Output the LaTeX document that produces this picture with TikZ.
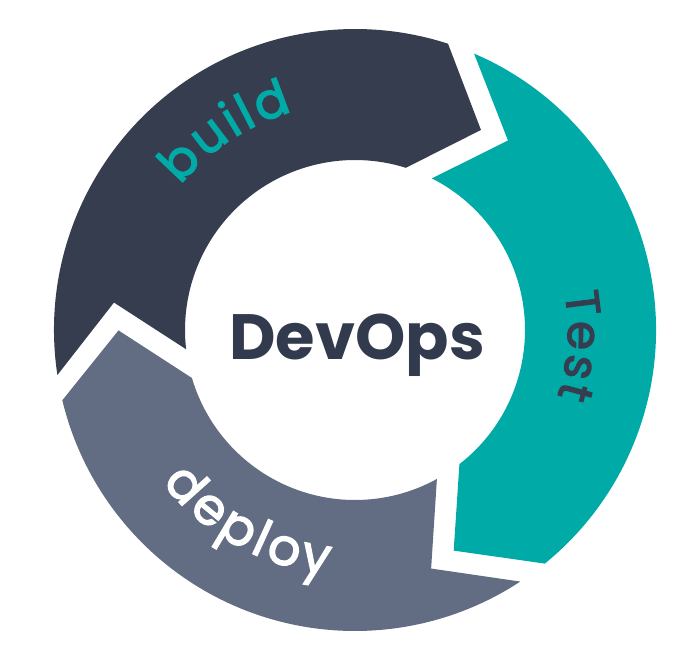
\documentclass[tikz,border=0pt]{standalone}
\usepackage{fontspec}
\setmainfont{Poppins}
\newfontfamily\ringfont[FakeBold=2.5]{Poppins}
\usetikzlibrary{decorations.text}
\definecolor{buildc}{HTML}{363D4F}
\definecolor{testc}{HTML}{00AAA7}
\definecolor{deployc}{HTML}{626D83}
\definecolor{titlec}{HTML}{323A4D}
\tikzset{
  seg/.style={draw=none},
  ringlabel/.style={decorate, decoration={text along path, text align=center, text={#1}}},
  title/.style={text=titlec, font=\bfseries\fontsize{64}{64}\selectfont, inner sep=0pt}
}
\begin{document}
\begin{tikzpicture}[x=1pt,y=1pt]
\useasboundingbox[fill=white] (-355,-326) rectangle (345,330);
% build
\fill[seg, buildc] (188.6:301) arc[start angle=188.6, end angle=72, radius=301]
  -- (57.8:236.4) -- (72.6:170) arc[start angle=72.6, end angle=186.5, radius=170]
  -- (173.5:242.6) -- cycle;
% test
\fill[seg, testc] (66.7:301) arc[start angle=66.7, end angle=-50.9, radius=301]
  -- (-65.9:241.7) -- (-52.1:170) arc[start angle=-52.1, end angle=63.1, radius=170]
  -- (51.1:243.6) -- cycle;
% deploy
\fill[seg, deployc] (-56.7:301) arc[start angle=-56.7, end angle=-166.5, radius=301]
  -- (-179.9:236.5) -- (-163.6:170) arc[start angle=-163.6, end angle=-61.2, radius=170]
  -- (-72.3:250.4) -- cycle;
% labels
\path[ringlabel={|\ringfont\fontsize{50}{50}\selectfont\color{testc}\kern3pt|build}]
  (153.5:227) arc[start angle=153.5, end angle=93.5, radius=227];
\path[ringlabel={|\ringfont\fontsize{47}{47}\selectfont\color{buildc}\kern3pt|Test}]
  (26.4:213) arc[start angle=26.4, end angle=-33.6, radius=213];
\path[ringlabel={|\ringfont\fontsize{51}{51}\selectfont\color{white}\kern4pt|deploy}]
  (205.5:246) arc[start angle=205.5, end angle=275.5, radius=246];
\node[title, anchor=base] (devops) at (2,-29.3) {DevOps};
\end{tikzpicture}
\end{document}
